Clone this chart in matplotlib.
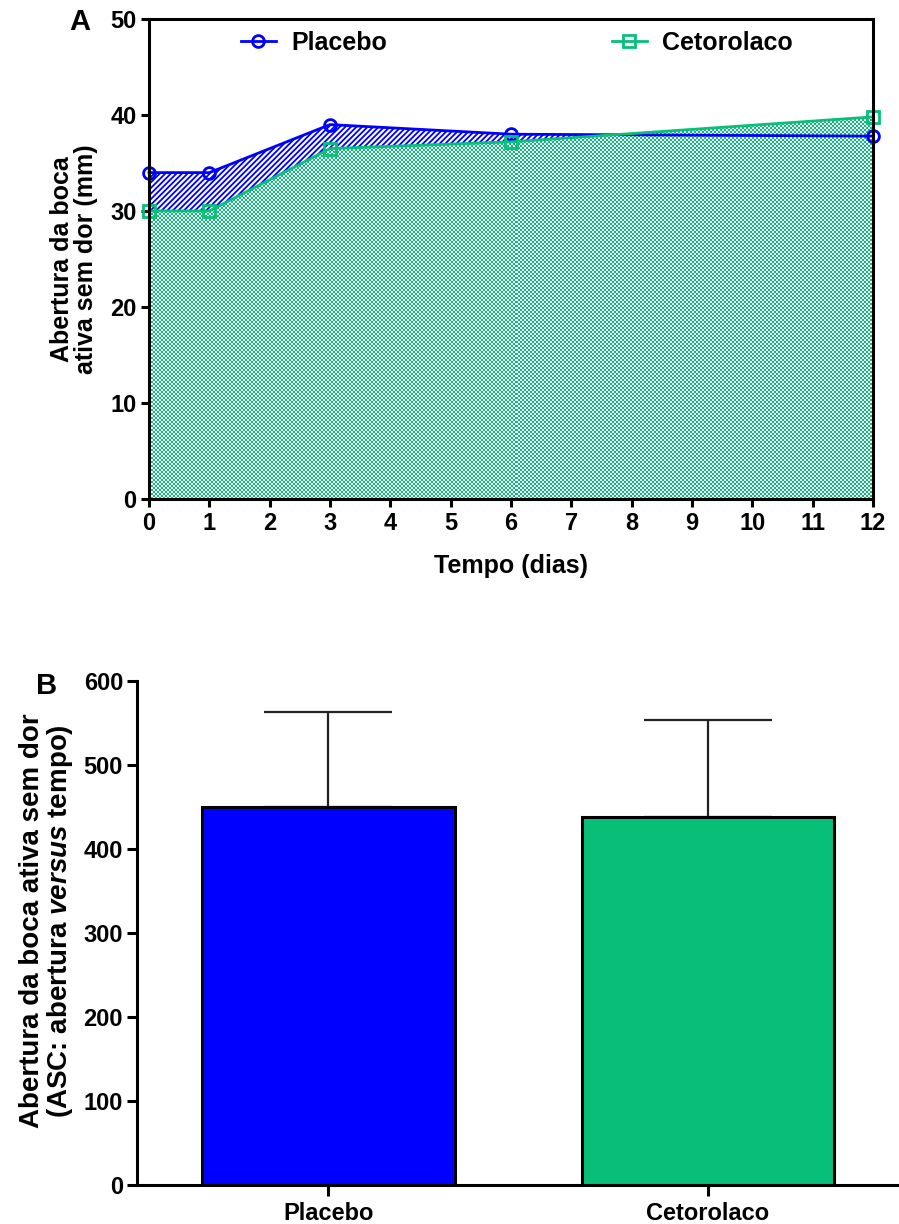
import numpy as np
import matplotlib.pyplot as plt
from matplotlib.patches import PathPatch
from matplotlib.colors import ListedColormap

plt.rcParams['font.family'] = 'Liberation Sans'
plt.rcParams['font.weight'] = 'bold'
plt.rcParams['mathtext.fontset'] = 'custom'
plt.rcParams['mathtext.it'] = 'Liberation Sans:bold:italic'
plt.rcParams['mathtext.rm'] = 'Liberation Sans:bold'
plt.rcParams['hatch.linewidth'] = 1.3

#==================Dados=========
dias = [0, 1, 3, 6, 12]
placebo = [34, 34, 39, 38, 37.8]
cetorolaco = [30, 30, 36.5, 37.2, 39.8]

grupos = ['Placebo', 'Cetorolaco']
asc_media = [450, 438]
asc_dp = [113, 115]

azul = '#0000FF'
verde = '#08BF78'

W, H = 899, 1224
fig = plt.figure(figsize=(W / 100, H / 100), dpi=100)

#==================Painel A=========
# caixa em pixels: x 149..873, y 19..499
ax1 = fig.add_axes([149 / W, 1 - 499 / H, 724 / W, 480 / H])
ax1.set_xlim(0, 12)
ax1.set_ylim(0, 50)

# area sob placebo com hachura azul
ax1.fill_between(dias, placebo, 0, facecolor='white', edgecolor=azul,
                 hatch='//////', linewidth=0, zorder=1)

# area sob cetorolaco com padrao xadrez verde (celulas de 2 px)
poly = ax1.fill_between(dias, cetorolaco, 0, facecolor='none', linewidth=0, zorder=2)
nx, ny = 362, 240
ii, jj = np.indices((ny, nx))
xadrez = ((ii + jj) % 2).astype(float)
img = ax1.imshow(xadrez, extent=[0, 12, 0, 50], aspect='auto', origin='lower',
                 cmap=ListedColormap(['white', verde]), interpolation='nearest', zorder=2)
img.set_clip_path(PathPatch(poly.get_paths()[0], transform=ax1.transData, visible=False))
ax1.set_xlim(0, 12)
ax1.set_ylim(0, 50)

ax1.plot(dias, placebo, '-o', color=azul, lw=2.0, ms=8.5, mfc='none', mew=2.0,
         label='Placebo', zorder=4, clip_on=False)
ax1.plot(dias, cetorolaco, '-s', color=verde, lw=2.0, ms=8, mfc='none', mew=2.0,
         label='Cetorolaco', zorder=5, clip_on=False)

ax1.set_xticks(range(0, 13))
ax1.set_yticks(range(0, 51, 10))
for s in ax1.spines.values():
    s.set_linewidth(2.2)
    s.set_zorder(6)
ax1.tick_params(direction='out', length=6, width=2.2, labelsize=17, pad=3)
ax1.set_xlabel('Tempo (dias)', fontsize=18, fontweight='bold')
ax1.xaxis.set_label_coords(0.5, -0.115)
ax1.set_ylabel('Abertura da boca\nativa sem dor (mm)', fontsize=18, fontweight='bold',
               linespacing=1.0)
ax1.yaxis.set_label_coords(-0.070, 0.5)
ax1.legend(loc='upper left', bbox_to_anchor=(0.12, 0.985), ncol=2, frameon=False,
           fontsize=18, columnspacing=9.0, handlelength=1.4, handletextpad=0.6,
           borderaxespad=0, borderpad=0.2)
fig.text(80 / W, 1 - 22 / H, 'A', fontsize=21, fontweight='bold', ha='center', va='center')

#==================Painel B=========
# caixa em pixels: x 137..899, y 681..1185
ax2 = fig.add_axes([137 / W, 1 - 1185 / H, 762 / W, 504 / H])
pos = np.arange(len(grupos))
ax2.bar(pos, asc_media, width=0.665, color=[azul, verde], edgecolor='black',
        linewidth=2.2, zorder=2)
ax2.errorbar(pos, asc_media, yerr=[np.zeros(len(asc_dp)), asc_dp], fmt='none',
             ecolor='#222222', elinewidth=1.6, capsize=46, capthick=1.6, zorder=1)
ax2.set_xlim(-0.505, 1.505)
ax2.set_ylim(0, 600)
ax2.set_yticks(range(0, 601, 100))
ax2.set_xticks(pos)
ax2.set_xticklabels(grupos, fontsize=22, fontweight='bold')
ax2.spines['top'].set_visible(False)
ax2.spines['right'].set_visible(False)
ax2.spines['left'].set_linewidth(2.2)
ax2.spines['bottom'].set_linewidth(2.2)
ax2.tick_params(direction='out', length=7, width=2.2, labelsize=17, pad=3)
ax2.tick_params(axis='x', length=8, pad=4)
ax2.set_ylabel('Abertura da boca ativa sem dor\n(ASC: abertura $\\it{versus}$ tempo)',
               fontsize=20, fontweight='bold', linespacing=1.0)
ax2.yaxis.set_label_coords(-0.0814, 0.524)
fig.text(47 / W, 1 - 686 / H, 'B', fontsize=21, fontweight='bold', ha='center', va='center')

fig.savefig('out.png', dpi=100)
